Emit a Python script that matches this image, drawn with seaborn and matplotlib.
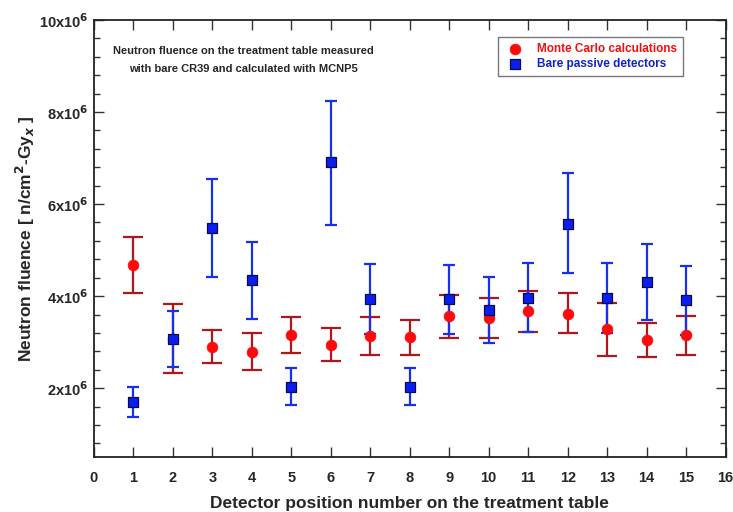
import numpy as np
import pandas as pd
import seaborn as sns
from matplotlib import pyplot as plt
from matplotlib.ticker import MultipleLocator, FuncFormatter

# detector positions on the treatment table
positions = list(range(1, 16))

# Monte Carlo calculations (units of 1e6 n/cm2-Gy)
mc_value = [4.67, 3.06, 2.90, 2.79, 3.15, 2.93, 3.13, 3.11, 3.56, 3.53, 3.68, 3.62, 3.28, 3.04, 3.15]
mc_upper = [5.29, 3.82, 3.26, 3.19, 3.54, 3.30, 3.54, 3.49, 4.03, 3.96, 4.12, 4.06, 3.85, 3.41, 3.57]
mc_lower = [4.06, 2.32, 2.54, 2.40, 2.77, 2.58, 2.73, 2.72, 3.10, 3.10, 3.22, 3.19, 2.69, 2.67, 2.73]

# bare passive detectors (CR39)
cr_value = [1.70, 3.06, 5.48, 4.35, 2.02, 6.92, 3.94, 2.02, 3.93, 3.70, 3.96, 5.57, 3.97, 4.30, 3.91]
cr_upper = [2.02, 3.67, 6.55, 5.18, 2.43, 8.25, 4.70, 2.43, 4.68, 4.42, 4.72, 6.67, 4.73, 5.13, 4.65]
cr_lower = [1.37, 2.47, 4.42, 3.51, 1.64, 5.55, 3.18, 1.64, 3.17, 2.99, 3.22, 4.51, 3.20, 3.48, 3.16]

mc_label = "Monte Carlo calculations"
cr_label = "Bare passive detectors"


def to_df(vals, up, lo, label):
    v = np.array(vals) * 1e6
    return pd.DataFrame({"pos": positions, "fluence": v,
                         "err_lo": v - np.array(lo) * 1e6,
                         "err_hi": np.array(up) * 1e6 - v,
                         "source": label})


mc = to_df(mc_value, mc_upper, mc_lower, mc_label)
cr = to_df(cr_value, cr_upper, cr_lower, cr_label)

sns.set_style("ticks")
plt.rcParams['font.family'] = ['Liberation Sans', 'DejaVu Sans']
plt.rcParams['font.weight'] = 'bold'

fig = plt.figure(figsize=(7.33, 5.12), dpi=100)
ax = fig.add_axes([0.128, 0.107, 0.862, 0.854])

# error bars first, markers on top
ax.errorbar(mc["pos"], mc["fluence"], yerr=[mc["err_lo"], mc["err_hi"]], fmt="none",
            ecolor="#b0161c", elinewidth=1.6, capsize=7, capthick=1.6, zorder=2)
ax.errorbar(cr["pos"], cr["fluence"], yerr=[cr["err_lo"], cr["err_hi"]], fmt="none",
            ecolor="#1530f0", elinewidth=1.6, capsize=4.5, capthick=1.6, zorder=3)

sns.scatterplot(data=mc, x="pos", y="fluence", ax=ax, color="#ff0a0a", marker="o",
                s=60, edgecolor="#ff0a0a", linewidth=0.5, zorder=4, label=mc_label)
sns.scatterplot(data=cr, x="pos", y="fluence", ax=ax, color="#0a1ef0", marker="s",
                s=50, edgecolor="#0a0a50", linewidth=0.9, zorder=5, label=cr_label)

ax.set_xlim(0, 16)
ax.set_ylim(0.5e6, 10e6)
ax.xaxis.set_major_locator(MultipleLocator(1))
ax.yaxis.set_major_locator(MultipleLocator(2e6))
ax.yaxis.set_minor_locator(MultipleLocator(0.4e6))
ax.yaxis.set_major_formatter(FuncFormatter(lambda v, p: "%dx10$^6$" % round(v / 1e6)))

for s in ax.spines.values():
    s.set_linewidth(1.3)
    s.set_color("#222222")
ax.tick_params(which="both", direction="in", top=True, right=True, width=1.0, color="#333333")
ax.tick_params(which="major", length=7, labelsize=10.5, pad=10)
ax.tick_params(which="minor", length=4)
ax.tick_params(axis="y", pad=4)
for lab in ax.get_xticklabels() + ax.get_yticklabels():
    lab.set_fontweight("bold")

ax.set_xlabel("Detector position number on the treatment table", fontsize=12.5,
              fontweight="bold", labelpad=8)
ax.set_ylabel("Neutron fluence [ n/cm$^2$-Gy$_x$ ]", fontsize=12.5, fontweight="bold", labelpad=1)

ax.text(0.237, 0.94, "Neutron fluence on the treatment table measured\nwith bare CR39 and calculated with MCNP5",
        transform=ax.transAxes, ha="center", va="top", fontsize=8, fontweight="bold",
        linespacing=2.0)

leg = ax.legend(loc="upper left", bbox_to_anchor=(0.63, 0.975), frameon=True, fancybox=False,
                edgecolor="#555555", fontsize=8.5, handletextpad=0.8, borderpad=0.5,
                labelspacing=0.3, markerscale=1.0)
leg.get_frame().set_linewidth(1.0)
for t, c in zip(leg.get_texts(), ["#ee1111", "#1122cc"]):
    t.set_color(c)
    t.set_fontweight("bold")

fig.savefig("out.png", dpi=100)
